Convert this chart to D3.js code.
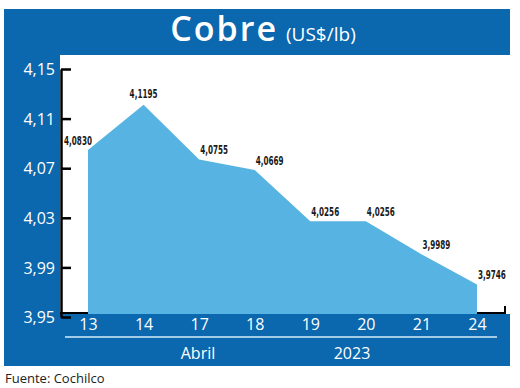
<!DOCTYPE html>
<html>
<head>
<meta charset="utf-8">
<script src="https://cdn.jsdelivr.net/npm/d3@7"></script>
<style>
  body { margin: 0; background: #fff; }
  svg { display: block; }
</style>
</head>
<body>
<svg id="chart"></svg>
<script>
const days = ["13", "14", "17", "18", "19", "20", "21", "24"];
const prices = [4.0830, 4.1195, 4.0755, 4.0669, 4.0256, 4.0256, 3.9989, 3.9746];
const yTicks = [3.95, 3.99, 4.03, 4.07, 4.11, 4.15];
const monthLabel = "Abril";
const yearLabel = "2023";

const data = days.map((d, i) => ({ day: d, value: prices[i] }));

const W = 520, H = 388;
const dark = "#0b67ae", light = "#56b3e2";
const comma = d3.formatLocale({ decimal: ",", thousands: ".", grouping: [3], currency: ["", ""] });
const fmt2 = comma.format(".2f"), fmt4 = comma.format(".4f");
const sans = "'Open Sans', 'Noto Sans', sans-serif";
const narrow = "'DejaVu Sans Condensed', sans-serif";

const svg = d3.select("#chart").attr("width", W).attr("height", H);

// frame: blue background, white plot area
svg.append("rect").attr("x", 4).attr("y", 9).attr("width", 506).attr("height", 357).attr("fill", dark);
svg.append("rect").attr("x", 60).attr("y", 55).attr("width", 460).attr("height", 259).attr("fill", "#fff");

const x = d3.scalePoint().domain(days).range([88, 477]);
const y = d3.scaleLinear().domain([3.95, 4.15]).range([315, 67]);

// x axis line
svg.append("path")
    .attr("d", `M60,313H505V306`)
    .attr("fill", "none").attr("stroke", "#000").attr("stroke-width", 2);

const area = d3.area()
    .x(d => x(d.day))
    .y0(314)
    .y1(d => y(d.value));

svg.append("path").datum(data).attr("d", area).attr("fill", light);

// bottom band
svg.append("rect").attr("x", 4).attr("y", 314).attr("width", 506).attr("height", 52).attr("fill", dark);

// y axis
const yAxis = svg.append("g")
    .attr("transform", "translate(61,2)")
    .call(d3.axisRight(y).tickValues(yTicks).tickFormat(fmt2).tickSize(10).tickSizeOuter(0));
yAxis.select(".domain").attr("stroke", "#000").attr("stroke-width", 2.5);
yAxis.selectAll(".tick line").attr("stroke", "#000").attr("stroke-width", 2.5);
yAxis.selectAll(".tick text")
    .attr("x", -6).attr("text-anchor", "end").attr("dy", "0.35em")
    .attr("fill", "#fff").style("font-family", sans).style("font-size", "16px");

// x axis labels
const xAxis = svg.append("g")
    .attr("transform", "translate(0,316)")
    .call(d3.axisBottom(x).tickSize(0).tickPadding(3));
xAxis.select(".domain").remove();
xAxis.selectAll(".tick text")
    .attr("fill", "#fff").style("font-family", sans).style("font-size", "16px");

svg.append("line")
    .attr("x1", 65).attr("x2", 497).attr("y1", 337).attr("y2", 337)
    .attr("stroke", "#d6ecfa").attr("stroke-width", 1.5);

svg.append("text").attr("x", 198).attr("y", 359).attr("text-anchor", "middle")
    .attr("fill", "#fff").style("font-family", sans).style("font-size", "16px").text(monthLabel);
svg.append("text").attr("x", 352).attr("y", 359).attr("text-anchor", "middle")
    .attr("fill", "#fff").style("font-family", sans).style("font-size", "16px").text(yearLabel);

// value labels (condensed horizontally)
svg.selectAll(".val")
    .data(data)
    .enter().append("text")
    .attr("class", "val")
    .attr("transform", (d, i) => {
        const lx = i === 0 ? x(d.day) - 10 : i === 1 ? x(d.day) : x(d.day) + 1;
        const ly = i === 1 ? y(d.value) - 7 : y(d.value) - 5;
        return `translate(${lx},${ly}) scale(0.7,1)`;
    })
    .attr("text-anchor", (d, i) => i < 2 ? "middle" : "start")
    .style("font-family", narrow)
    .style("font-size", "11.5px")
    .style("font-weight", "bold")
    .attr("fill", "#1a1a1a")
    .text(d => fmt4(d.value));

// title
const title = svg.append("text").attr("x", 263).attr("y", 41).attr("text-anchor", "middle").attr("fill", "#fff");
title.append("tspan").style("font-family", sans).style("font-size", "34px").style("font-weight", "600")
    .style("letter-spacing", "2px").text("Cobre");
title.append("tspan").attr("dx", 8).style("font-family", sans).style("font-size", "19px").text("(US$/lb)");

svg.append("text").attr("x", 5).attr("y", 383)
    .attr("fill", "#222").style("font-family", sans).style("font-size", "13px").text("Fuente: Cochilco");
</script>
</body>
</html>
